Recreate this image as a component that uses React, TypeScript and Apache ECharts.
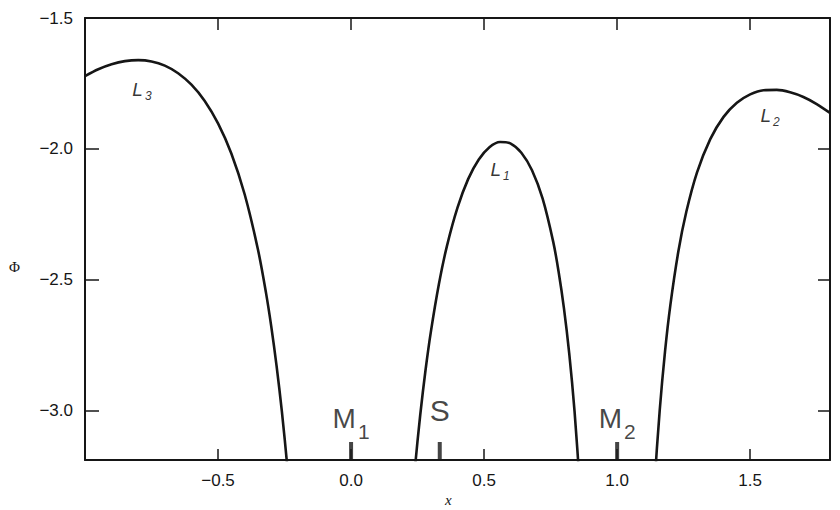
import React, { useEffect, useRef } from 'react';
import * as echarts from 'echarts';

// Axis ticks / labels
const xLabelValues = [-0.5, 0, 0.5, 1, 1.5];
const yTickValues = [-3, -2.5, -2, -1.5];

// Curve branches (x, Φ)
const branchL3X = [-1.0, -0.95, -0.9, -0.85, -0.8, -0.75, -0.7, -0.65, -0.6, -0.55, -0.5, -0.45, -0.4, -0.35, -0.32, -0.3, -0.28, -0.26, -0.24, -0.22];
const branchL3Y = [-1.722, -1.696, -1.677, -1.665, -1.661, -1.666, -1.682, -1.711, -1.755, -1.817, -1.903, -2.018, -2.174, -2.385, -2.549, -2.679, -2.83, -3.005, -3.211, -3.457];

const branchL1X = [0.22, 0.24, 0.26, 0.28, 0.3, 0.33, 0.36, 0.4, 0.44, 0.48, 0.52, 0.56, 0.6, 0.64, 0.68, 0.72, 0.76, 0.78, 0.8, 0.82, 0.84, 0.86, 0.87];
const branchL1Y = [-3.464, -3.221, -3.017, -2.845, -2.699, -2.518, -2.373, -2.225, -2.116, -2.041, -1.994, -1.974, -1.98, -2.015, -2.082, -2.191, -2.357, -2.47, -2.609, -2.783, -3.005, -3.295, -3.474];

const branchL2X = [1.12, 1.14, 1.16, 1.18, 1.2, 1.23, 1.26, 1.3, 1.35, 1.4, 1.45, 1.5, 1.55, 1.6, 1.65, 1.7, 1.75, 1.8];
const branchL2Y = [-3.682, -3.291, -3.0, -2.775, -2.598, -2.393, -2.241, -2.091, -1.963, -1.878, -1.824, -1.792, -1.776, -1.775, -1.784, -1.802, -1.829, -1.863];

// Body markers along the axis
const markerX = [0, 0.3333, 1];
const markerName = ['M', 'S', 'M'];
const markerSub = ['1', '', '2'];

// Lagrange point labels
const lagX = [-0.786, 0.56, 1.575];
const lagY = [-1.775, -2.081, -1.871];
const lagSub = ['3', '1', '2'];

const X_MIN = -1.0;
const X_MAX = 1.8;
const Y_MIN = -3.19;
const Y_MAX = -1.5;

const INK = '#161616';
const SANS = "'Liberation Sans', Arial, Helvetica, sans-serif";
const SERIF = "'Liberation Serif', 'DejaVu Serif', serif";

const fmt = (v: number) => {
  const s = Math.abs(v).toFixed(1);
  return v < 0 ? '\u2212' + s : s;
};

const zip = (xs: number[], ys: number[]) => xs.map((x, i) => [x, ys[i]]);

export default function App() {
  const ref = useRef<HTMLDivElement>(null);

  useEffect(() => {
    if (!ref.current) return;
    const chart = echarts.init(ref.current, undefined, { renderer: 'svg' });

    const axisLine = { show: true, onZero: false, lineStyle: { color: INK, width: 2 } };

    const lineSeries = (xs: number[], ys: number[]) => ({
      type: 'line',
      xAxisIndex: 0,
      yAxisIndex: 0,
      data: zip(xs, ys),
      showSymbol: false,
      symbol: 'none',
      smooth: 0.3,
      clip: true,
      lineStyle: { color: INK, width: 2.6 },
      z: 3,
    });

    const option: any = {
      animation: false,
      backgroundColor: '#ffffff',
      grid: { left: 85, right: 10, top: 18, bottom: 50, containLabel: false },
      xAxis: [
        {
          type: 'value',
          position: 'bottom',
          min: X_MIN,
          max: X_MAX,
          interval: 0.5,
          axisLine,
          axisTick: { show: true, inside: true, length: 11, lineStyle: { color: INK, width: 1.5 } },
          axisLabel: {
            showMinLabel: false,
            showMaxLabel: false,
            margin: 12,
            color: INK,
            fontSize: 17,
            fontFamily: SANS,
            formatter: (v: number) => (xLabelValues.some((t) => Math.abs(t - v) < 1e-6) ? fmt(v) : ''),
          },
          splitLine: { show: false },
        },
        {
          type: 'value',
          position: 'top',
          min: X_MIN,
          max: X_MAX,
          interval: 0.5,
          axisLine,
          axisTick: { show: true, inside: true, length: 12, lineStyle: { color: INK, width: 1.5 } },
          axisLabel: { show: false },
          splitLine: { show: false },
        },
      ],
      yAxis: [
        {
          type: 'value',
          position: 'left',
          min: Y_MIN,
          max: Y_MAX,
          axisLine,
          axisTick: { show: true, inside: true, length: 14, customValues: yTickValues, lineStyle: { color: INK, width: 1.5 } },
          axisLabel: {
            customValues: yTickValues,
            margin: 12,
            color: INK,
            fontSize: 17,
            fontFamily: SANS,
            formatter: (v: number) => fmt(v),
          },
          splitLine: { show: false },
        },
        {
          type: 'value',
          position: 'right',
          min: Y_MIN,
          max: Y_MAX,
          axisLine,
          axisTick: { show: true, inside: true, length: 12, customValues: yTickValues, lineStyle: { color: INK, width: 1.5 } },
          axisLabel: { show: false },
          splitLine: { show: false },
        },
      ],
      series: [
        lineSeries(branchL3X, branchL3Y),
        lineSeries(branchL1X, branchL1Y),
        lineSeries(branchL2X, branchL2Y),
        {
          type: 'scatter',
          xAxisIndex: 0,
          yAxisIndex: 0,
          clip: false,
          symbol: 'rect',
          symbolSize: [4, 18],
          symbolOffset: [0, -9],
          itemStyle: { color: INK },
          z: 4,
          data: markerX.map((x, i) => ({
            value: [x, Y_MIN],
            label: {
              show: true,
              position: 'top',
              distance: 10,
              formatter: markerSub[i] ? `{m|${markerName[i]}}{s|${markerSub[i]}}` : `{b|${markerName[i]}}`,
            },
          })),
          label: {
            show: true,
            color: INK,
            rich: {
              m: { fontSize: 28, lineHeight: 28, fontFamily: SANS, color: INK, verticalAlign: 'top' },
              s: { fontSize: 21, lineHeight: 21, fontFamily: SANS, color: INK, verticalAlign: 'top', padding: [17, 0, 0, 2] },
              b: { fontSize: 30, lineHeight: 30, fontFamily: SANS, color: INK, padding: [0, 0, 14, 0] },
            },
          },
        },
        {
          type: 'scatter',
          xAxisIndex: 0,
          yAxisIndex: 0,
          clip: false,
          symbol: 'circle',
          symbolSize: 1,
          itemStyle: { color: 'rgba(0,0,0,0)' },
          z: 4,
          data: lagX.map((x, i) => ({
            value: [x, lagY[i]],
            label: { formatter: `{l|L}{s|${lagSub[i]}}` },
          })),
          label: {
            show: true,
            position: 'inside',
            color: INK,
            rich: {
              l: { fontSize: 19, lineHeight: 19, fontFamily: SANS, fontStyle: 'italic', color: '#000', verticalAlign: 'top' },
              s: { fontSize: 12, lineHeight: 12, fontFamily: SANS, fontStyle: 'italic', color: '#000', verticalAlign: 'top', padding: [10, 0, 0, 2] },
            },
          },
        },
      ],
      graphic: [
        {
          type: 'text',
          left: 9,
          top: 259,
          style: { text: '\u03A6', font: `15px ${SERIF}`, fill: INK },
        },
        {
          type: 'text',
          left: 445,
          top: 492,
          style: { text: 'x', font: `italic 15px ${SERIF}`, fill: INK },
        },
      ],
    };

    chart.setOption(option);
    return () => chart.dispose();
  }, []);

  return <div ref={ref} style={{ position: 'absolute', left: 0, top: 0, width: 840, height: 510 }} />;
}
